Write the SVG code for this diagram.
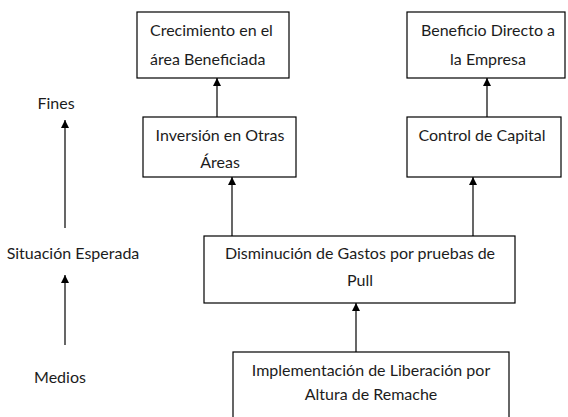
<svg xmlns="http://www.w3.org/2000/svg" width="568" height="417" viewBox="0 0 568 417">
<style>
.box{fill:#fff;stroke:#000;stroke-width:1.2}
.t{font-family:Lato,"Open Sans","Liberation Sans",sans-serif;font-size:16px;fill:#1c1c1c}
.c{text-anchor:middle}
.con{stroke:#000;stroke-width:1.2;fill:none;marker-end:url(#ah)}
</style>
<defs>
<marker id="ah" viewBox="0 0 10 10" refX="10" refY="5" markerWidth="8" markerHeight="8" markerUnits="userSpaceOnUse" orient="auto">
<path d="M0,0 L10,5 L0,10 z" fill="#000"/>
</marker>
</defs>
<rect width="568" height="417" fill="#fff"/>
<g id="n-crecimiento">
<rect class="box" x="137" y="12" width="152" height="66"/>
<text class="t" x="150" y="36">Crecimiento en el</text>
<text class="t" x="150" y="65">área Beneficiada</text>
</g>
<g id="n-beneficio">
<rect class="box" x="407" y="12" width="158" height="66"/>
<text class="t c" x="488" y="36">Beneficio Directo a</text>
<text class="t c" x="488" y="65">la Empresa</text>
</g>
<g id="n-inversion">
<rect class="box" x="143" y="117" width="153" height="60"/>
<text class="t c" x="220" y="141">Inversión en Otras</text>
<text class="t c" x="220" y="168">Áreas</text>
</g>
<g id="n-control">
<rect class="box" x="407" y="117" width="154" height="60"/>
<text class="t c" x="482" y="141">Control de Capital</text>
</g>
<g id="n-disminucion">
<rect class="box" x="204" y="236" width="311" height="67"/>
<text class="t c" x="360" y="259">Disminución de Gastos por pruebas de</text>
<text class="t c" x="360" y="286">Pull</text>
</g>
<g id="n-implementacion">
<rect class="box" x="233" y="352" width="276" height="75"/>
<text class="t c" x="371" y="376">Implementación de Liberación por</text>
<text class="t c" x="371" y="400">Altura de Remache</text>
</g>
<g id="n-fines"><text class="t c" x="56" y="109">Fines</text></g>
<g id="n-situacion"><text class="t c" x="73" y="259">Situación Esperada</text></g>
<g id="n-medios"><text class="t c" x="60" y="383">Medios</text></g>
<g id="connectors">
<line class="con" x1="217" y1="117" x2="217" y2="78"/>
<line class="con" x1="487" y1="117" x2="487" y2="78"/>
<line class="con" x1="232" y1="236" x2="232" y2="177"/>
<line class="con" x1="473" y1="236" x2="473" y2="177"/>
<line class="con" x1="356" y1="352" x2="356" y2="303"/>
<line class="con" x1="65" y1="228" x2="65" y2="120"/>
<line class="con" x1="65" y1="345" x2="65" y2="275"/>
</g>
</svg>
